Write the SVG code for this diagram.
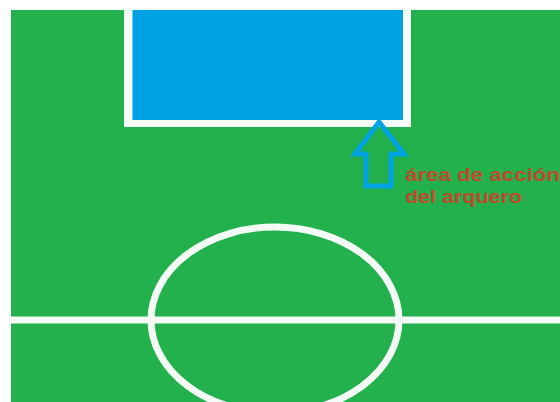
<svg xmlns="http://www.w3.org/2000/svg" width="560" height="402" viewBox="0 0 560 402">
<style>
.line{fill:none;stroke:#f4fbf6;}
.lbl{font-family:"Liberation Sans",Arial,sans-serif;font-weight:bold;font-size:18px;fill:#c0482b;}
</style>
<rect x="0" y="0" width="560" height="402" fill="#ffffff"/>
<g id="field">
<rect x="11" y="10" width="549" height="392" fill="#22b14c"/>
</g>
<g id="goal-area">
<rect x="124" y="10" width="287" height="117" fill="#f4fbf6"/>
<rect x="132.5" y="10" width="270.5" height="110" fill="#00a2e3"/>
</g>
<g id="midfield">
<rect x="11" y="316.5" width="549" height="7" fill="#f4fbf6"/>
<ellipse class="line" cx="275" cy="320" rx="124" ry="93" stroke-width="7"/>
</g>
<g id="connectors">
<path d="M379,122 L404,154 L391,154 L391,186 L366,186 L366,154 L355,154 Z" fill="none" stroke="#00a2e3" stroke-width="5" stroke-linejoin="miter"/>
</g>
<g id="label">
<text class="lbl" x="405" y="181" textLength="155" lengthAdjust="spacingAndGlyphs">área de acción</text>
<text class="lbl" x="405" y="203" textLength="117" lengthAdjust="spacingAndGlyphs">del arquero</text>
</g>
</svg>
